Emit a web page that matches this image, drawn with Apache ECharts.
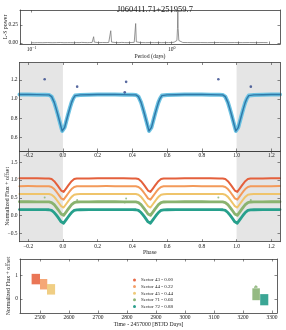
<!DOCTYPE html>
<html><head><meta charset="utf-8">
<script src="https://cdn.jsdelivr.net/npm/echarts@6/dist/echarts.min.js"></script>
<style>html,body{margin:0;padding:0;background:#fff}#c{width:286px;height:330px}</style>
</head><body><div id="c"></div>
<script>
// ---------- data ----------
const titleText = 'J060411.71+251959.7';

// Panel 1: Lomb-Scargle periodogram (period in days, power)
const lsPeriod = [0.1,0.105,0.11,0.12,0.13,0.14,0.15,0.16,0.17,0.18,0.185,0.19,0.2,0.21,0.218,0.221,0.224,0.227,0.23,0.24,0.25,0.26,0.27,0.274,0.277,0.28,0.284,0.3,0.32,0.34,0.355,0.362,0.367,0.372,0.38,0.4,0.42,0.44,0.46,0.48,0.5,0.52,0.54,0.547,0.553,0.559,0.566,0.6,0.65,0.7,0.75,0.8,0.85,0.9,0.95,1.0,1.04,1.07,1.09,1.1,1.106,1.112,1.125,1.15,1.2,1.3,1.4,1.6,1.8,2.0,2.2,2.5,2.8,3.2,3.6,4.0,4.5,4.85];
const lsPower  = [0.004,0.003,0.005,0.004,0.006,0.004,0.005,0.007,0.004,0.005,0.012,0.005,0.004,0.006,0.005,0.008,0.03,0.008,0.005,0.006,0.005,0.006,0.007,0.01,0.087,0.012,0.006,0.005,0.007,0.006,0.007,0.012,0.17,0.012,0.007,0.006,0.005,0.008,0.006,0.005,0.006,0.007,0.009,0.015,0.27,0.015,0.008,0.006,0.005,0.006,0.005,0.006,0.005,0.006,0.006,0.007,0.01,0.02,0.035,0.2,0.455,0.2,0.035,0.015,0.007,0.006,0.005,0.006,0.005,0.006,0.007,0.005,0.006,0.005,0.006,0.005,0.006,0.005];

// Panel 2: phase-folded light curve
const phase = [-0.25,-0.2,-0.15,-0.1,-0.08,-0.07,-0.065,-0.06,-0.05,-0.04,-0.03,-0.02,-0.01,-0.004,0,0.004,0.01,0.02,0.03,0.04,0.05,0.06,0.065,0.07,0.08,0.1,0.15,0.2,0.25,0.3,0.35,0.4,0.42,0.43,0.435,0.44,0.45,0.46,0.47,0.48,0.49,0.496,0.5,0.504,0.51,0.52,0.53,0.54,0.55,0.56,0.565,0.57,0.58,0.6,0.65,0.7,0.75,0.8,0.85,0.9,0.92,0.93,0.935,0.94,0.95,0.96,0.97,0.98,0.99,0.996,1.0,1.004,1.01,1.02,1.03,1.04,1.05,1.06,1.065,1.07,1.08,1.1,1.15,1.2,1.25];
const phaseFlux = [1.047,1.048,1.046,1.044,1.043,1.038,1.025,1.008,0.965,0.905,0.84,0.772,0.703,0.665,0.652,0.665,0.703,0.772,0.84,0.905,0.965,1.008,1.025,1.036,1.041,1.043,1.045,1.047,1.048,1.047,1.046,1.044,1.043,1.038,1.025,1.008,0.965,0.905,0.84,0.772,0.703,0.665,0.652,0.665,0.703,0.772,0.84,0.905,0.965,1.008,1.025,1.036,1.041,1.043,1.045,1.047,1.048,1.047,1.046,1.044,1.043,1.038,1.025,1.008,0.965,0.905,0.84,0.772,0.703,0.665,0.652,0.665,0.703,0.772,0.84,0.905,0.965,1.008,1.025,1.036,1.041,1.043,1.045,1.047,1.048];
const outlierPhase = [-0.105,0.082,0.356,0.364,0.895,1.082];
const outlierFlux  = [1.207,1.13,1.07,1.18,1.207,1.13];
const shadeStart = [-0.25, 1.0];
const shadeEnd   = [0.0, 1.25];

// Panel 3: per-sector curves (flux - offset)
const sectorNames   = ['Sector 43 - 0.00','Sector 44 - 0.22','Sector 45 - 0.44','Sector 71 - 0.66','Sector 72 - 0.88'];
const sectorOffsets = [0, 0.22, 0.44, 0.66, 0.88];
const p3OutlierPhase = [-0.105,0.082,0.356,0.364,0.895,1.082];
const p3OutlierFlux  = [0.51,0.44,0.37,0.48,0.51,0.44];

// Panel 4: time series extents per sector (BTJD start/end, flux low/high after offset)
const sectorStart = [2471, 2500, 2524, 3232, 3259];
const sectorEnd   = [2500, 2525, 2552, 3258, 3287];
const sectorLow   = [0.63, 0.41, 0.19, -0.05, -0.27];
const sectorHigh  = [1.08, 0.86, 0.64, 0.46, 0.21];
const timeOutlierT    = [3241, 3244, 3247];
const timeOutlierFlux = [0.50, 0.55, 0.52];

// tick labels
const lsTicksMajor = [0.1, 1];
const lsTicksAll = [0.1,0.2,0.3,0.4,0.5,0.6,0.7,0.8,0.9,1,2,3,4,5];
const lsPowerTicks = [0, 0.25];
const phaseTicks = [-0.2,0,0.2,0.4,0.6,0.8,1.0,1.2];
const p2FluxTicks = [0.6,0.8,1.0,1.2];
const p3FluxTicks = [-0.5,0,0.5,1.0,1.5];
const timeTicks = [2500,2600,2700,2800,2900,3000,3100,3200,3300];
const p4FluxTicks = [0, 1];

// ---------- styling ----------
const FONT = "'Liberation Serif','DejaVu Serif',serif";
const INK = '#222';
const AX = '#3a3a3a';
const lineColors  = ['#e4603c','#f39a5a','#efc46b','#8ab36f','#27a08c'];
const blockColors = ['#e86a48','#f4a06a','#efca7a','#8cb478','#2a9e8c'];
const lineWidths  = [2, 2, 2, 2.8, 2.8];

const minusFmt1 = v => (v < 0 ? '\u2212' : '') + Math.abs(v).toFixed(1);

function mkAxis(gridIndex, position, min, max, ticks, showLabels, fmt, extra) {
  return Object.assign({
    type: 'value', gridIndex, position, min, max, z: 5, nameMoveOverlap: false,
    axisLine: {show: true, onZero: false, lineStyle: {color: AX, width: 0.8}},
    axisTick: {show: true, inside: true, length: 2.5, customValues: ticks, lineStyle: {color: AX, width: 0.6}},
    axisLabel: {show: showLabels, customValues: ticks, formatter: fmt, margin: 2,
                fontFamily: FONT, fontSize: 5.5, color: INK},
    splitLine: {show: false}
  }, extra || {});
}
const nameStyle = {fontFamily: FONT, fontSize: 5.8, color: INK};

const xAxes = [
  mkAxis(0, 'bottom', 0.0825, 5.94, lsTicksAll, true,
    v => Math.abs(v - 0.1) < 1e-9 ? '10{s|\u22121}' : (Math.abs(v - 1) < 1e-9 ? '10{s|0}' : ''),
    {type: 'log', logBase: 10, name: 'Period (days)', nameLocation: 'middle', nameGap: 9.5, nameTextStyle: nameStyle}),
  mkAxis(0, 'top', 0.0825, 5.94, lsTicksMajor, false, null, {type: 'log', logBase: 10}),
  mkAxis(1, 'bottom', -0.25, 1.25, phaseTicks, true, minusFmt1, {}),
  mkAxis(1, 'top', -0.25, 1.25, phaseTicks, false, null, {}),
  mkAxis(2, 'bottom', -0.25, 1.25, phaseTicks, true, minusFmt1,
    {name: 'Phase', nameLocation: 'middle', nameGap: 7.5, nameTextStyle: nameStyle}),
  mkAxis(2, 'top', -0.25, 1.25, phaseTicks, false, null, {}),
  mkAxis(3, 'bottom', 2431, 3317, timeTicks, true, v => String(v),
    {name: 'Time - 2457000 [BTJD Days]', nameLocation: 'middle', nameGap: 8.5, nameTextStyle: nameStyle}),
  mkAxis(3, 'top', 2431, 3317, timeTicks, false, null, {})
];
xAxes[0].axisLabel.rich = {s: {fontFamily: FONT, fontSize: 4, color: INK, padding: [0, 0, 3, 0]}};

const yAxes = [
  mkAxis(0, 'left', -0.014, 0.458, lsPowerTicks, true, v => v.toFixed(2),
    {name: 'L-S power', nameLocation: 'middle', nameGap: 12, nameRotate: 90, nameTextStyle: nameStyle}),
  mkAxis(0, 'right', -0.014, 0.458, lsPowerTicks, false, null, {}),
  mkAxis(1, 'left', 0.455, 1.383, p2FluxTicks, true, minusFmt1, {}),
  mkAxis(1, 'right', 0.455, 1.383, p2FluxTicks, false, null, {}),
  mkAxis(2, 'left', -0.736, 1.815, p3FluxTicks, true, minusFmt1,
    {name: 'Normalized Flux + offset', nameLocation: 'middle', nameGap: 9.5, nameRotate: 90, nameTextStyle: nameStyle}),
  mkAxis(2, 'right', -0.736, 1.815, p3FluxTicks, false, null, {}),
  mkAxis(3, 'left', -0.6, 1.717, p4FluxTicks, true, v => String(v),
    {name: 'Normalized Flux + offset', nameLocation: 'middle', nameGap: 9, nameRotate: 90, nameTextStyle: nameStyle}),
  mkAxis(3, 'right', -0.6, 1.717, p4FluxTicks, false, null, {})
];

function shadeSeries(gridIdx) {
  return {
    type: 'custom', xAxisIndex: gridIdx * 2, yAxisIndex: gridIdx * 2, z: 1, silent: true,
    data: shadeStart.map((s, i) => [s, shadeEnd[i]]),
    encode: {x: [0, 1]},
    renderItem(params, api) {
      const cs = params.coordSys;
      const a = api.coord([api.value(0), 1]);
      const b = api.coord([api.value(1), 1]);
      return {type: 'rect', shape: {x: a[0], y: cs.y, width: b[0] - a[0], height: cs.height},
              style: {fill: '#e5e5e5'}};
    }
  };
}

const series = [];
// Panel 1
series.push({type: 'line', xAxisIndex: 0, yAxisIndex: 0, showSymbol: false, z: 2,
  data: lsPeriod.map((p, i) => [p, lsPower[i]]),
  lineStyle: {color: '#7a7a7a', width: 0.8}});
// Panel 2
series.push(shadeSeries(1));
series.push({type: 'line', xAxisIndex: 2, yAxisIndex: 2, showSymbol: false, z: 2,
  data: phase.map((p, i) => [p, phaseFlux[i]]),
  lineStyle: {color: '#6cc2e2', width: 4, join: 'round', cap: 'round'}});
series.push({type: 'line', xAxisIndex: 2, yAxisIndex: 2, showSymbol: false, z: 3,
  data: phase.map((p, i) => [p, phaseFlux[i]]),
  lineStyle: {color: '#2f78a8', width: 1.4, join: 'round', cap: 'round'}});
series.push({type: 'scatter', xAxisIndex: 2, yAxisIndex: 2, z: 4, symbolSize: 2.6,
  data: outlierPhase.map((p, i) => [p, outlierFlux[i]]),
  itemStyle: {color: '#2e4488'}});
// Panel 3
series.push(shadeSeries(2));
sectorOffsets.forEach((off, k) => {
  series.push({type: 'line', xAxisIndex: 4, yAxisIndex: 4, showSymbol: false, z: 2 + k * 0.01,
    data: phase.map((p, i) => [p, phaseFlux[i] - off]),
    lineStyle: {color: lineColors[k], width: lineWidths[k], join: 'round', cap: 'round'}});
});
series.push({type: 'scatter', xAxisIndex: 4, yAxisIndex: 4, z: 4, symbolSize: 2,
  data: p3OutlierPhase.map((p, i) => [p, p3OutlierFlux[i]]),
  itemStyle: {color: lineColors[3]}});
// Panel 4
sectorNames.forEach((nm, k) => {
  series.push({type: 'custom', name: nm, xAxisIndex: 6, yAxisIndex: 6, z: 2,
    itemStyle: {color: blockColors[k]},
    data: [[sectorStart[k], sectorEnd[k], sectorLow[k], sectorHigh[k]]],
    encode: {x: [0, 1], y: [2, 3]},
    renderItem(params, api) {
      const p0 = api.coord([api.value(0), api.value(3)]);
      const p1 = api.coord([api.value(1), api.value(2)]);
      return {type: 'rect', shape: {x: p0[0], y: p0[1], width: p1[0] - p0[0], height: p1[1] - p0[1]},
              style: {fill: blockColors[k], opacity: 0.92}};
    }});
});
series.push({type: 'scatter', xAxisIndex: 6, yAxisIndex: 6, z: 3, symbolSize: 2,
  data: timeOutlierT.map((t, i) => [t, timeOutlierFlux[i]]),
  itemStyle: {color: blockColors[3]}});

const gridCommon = {containLabel: false, outerBoundsMode: 'none'};
const option = {
  animation: false,
  backgroundColor: '#fff',
  title: {text: titleText, left: 150, top: 0.5, textAlign: 'center',
    textStyle: {fontFamily: FONT, fontSize: 8.5, fontWeight: 'normal', color: INK}},
  grid: [
    Object.assign({left: 20, top: 10, width: 260, height: 34}, gridCommon),
    Object.assign({left: 19.5, top: 62.5, width: 260.5, height: 88.5}, gridCommon),
    Object.assign({left: 19.5, top: 151, width: 260.5, height: 90.7}, gridCommon),
    Object.assign({left: 20, top: 259, width: 257, height: 54}, gridCommon)
  ],
  legend: {data: sectorNames, orient: 'vertical', left: 133, top: 277.5, icon: 'circle',
    itemWidth: 3, itemHeight: 3, itemGap: 1.6, padding: 0,
    textStyle: {fontFamily: FONT, fontSize: 5, lineHeight: 5, color: INK}},
  xAxis: xAxes,
  yAxis: yAxes,
  series
};
const chart = echarts.init(document.getElementById('c'), null, {renderer: 'canvas'});
chart.setOption(option);
</script>
</body></html>
